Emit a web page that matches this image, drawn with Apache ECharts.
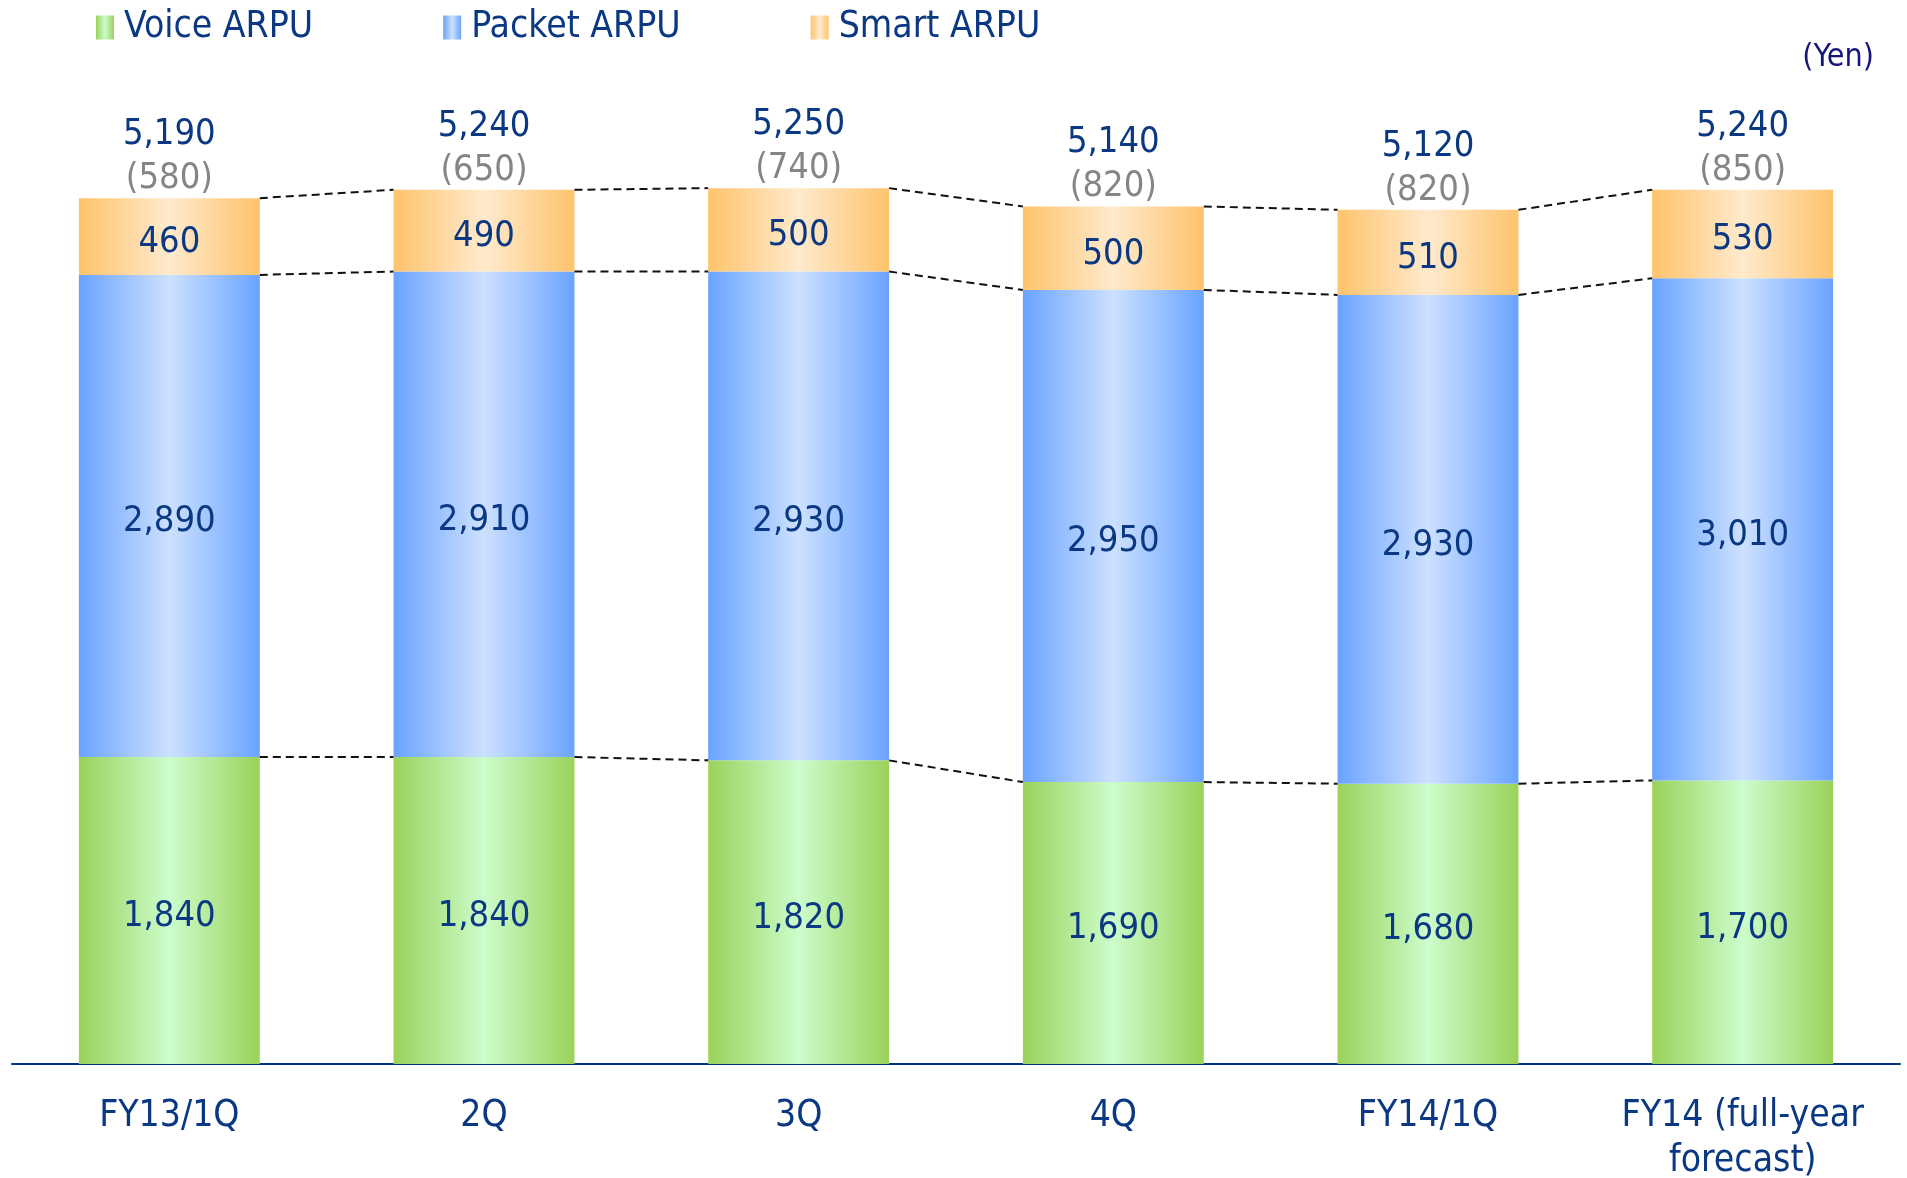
<!DOCTYPE html>
<html>
<head>
<meta charset="utf-8">
<script src="https://cdn.jsdelivr.net/npm/echarts@6/dist/echarts.min.js"></script>
<style>
html,body{margin:0;padding:0;background:#fff;}
#chart{width:1907px;height:1178px;}
</style>
</head>
<body>
<div id="chart"></div>
<script>
const categories = ['FY13/1Q', '2Q', '3Q', '4Q', 'FY14/1Q', 'FY14 (full-year\nforecast)'];
const voiceArpu = [1840, 1840, 1820, 1690, 1680, 1700];
const packetArpu = [2890, 2910, 2930, 2950, 2930, 3010];
const smartArpu = [460, 490, 500, 500, 510, 530];
const totalArpu = [5190, 5240, 5250, 5140, 5120, 5240];
const smartTotalArpu = [580, 650, 740, 820, 820, 850];

const FONT = "'DejaVu Sans Condensed', 'DejaVu Sans', sans-serif";
const TEXT_BLUE = '#0a3882';
const BAR_RATIO = 0.575;

function grad(edge, center) {
  return new echarts.graphic.LinearGradient(0, 0, 1, 0, [
    {offset: 0, color: edge},
    {offset: 0.5, color: center},
    {offset: 1, color: edge}
  ]);
}
const fmt = v => Number(v).toLocaleString('en-US');

// cumulative boundary levels for dashed connectors
const lvlVoice = voiceArpu.slice();
const lvlPacket = voiceArpu.map((v, i) => v + packetArpu[i]);
const lvlSmart = lvlPacket.map((v, i) => v + smartArpu[i]);
const connectorData = [];
[lvlVoice, lvlPacket, lvlSmart].forEach(lv => {
  for (let i = 0; i < lv.length - 1; i++) connectorData.push([i, lv[i], lv[i + 1]]);
});

const innerLabel = {
  show: true, position: 'inside', offset: [0, 6], color: TEXT_BLUE, fontFamily: FONT, fontSize: 36,
  formatter: p => fmt(p.value)
};

const chart = echarts.init(document.getElementById('chart'), null, {renderer: 'canvas'});
chart.setOption({
  animation: false,
  backgroundColor: '#fff',
  legend: {
    left: 91, top: 4,
    itemWidth: 18, itemHeight: 24, itemGap: 130,
    icon: 'rect',
    data: ['Voice ARPU', 'Packet ARPU', 'Smart ARPU'],
    textStyle: {color: TEXT_BLUE, fontFamily: FONT, fontSize: 37, padding: [0, 0, 0, 5]}
  },
  graphic: [{
    type: 'text', right: 33, top: 42,
    style: {text: '(Yen)', fill: '#16167a', font: "32px " + FONT}
  }],
  grid: {left: 12, right: 7, top: 63, bottom: 114, outerBoundsMode: 'none', containLabel: false},
  xAxis: {
    type: 'category',
    data: categories,
    axisLine: {lineStyle: {color: '#003380', width: 2}},
    axisTick: {show: false},
    axisLabel: {color: TEXT_BLUE, fontFamily: FONT, fontSize: 37, lineHeight: 45, margin: 30, interval: 0}
  },
  yAxis: {
    type: 'value', min: 0, max: 6000, show: false, splitLine: {show: false}
  },
  series: [
    {
      name: 'Voice ARPU', type: 'bar', stack: 'arpu', barWidth: (BAR_RATIO * 100) + '%',
      data: voiceArpu,
      itemStyle: {color: grad('#9ad25a', '#ccfdcc')},
      label: innerLabel
    },
    {
      name: 'Packet ARPU', type: 'bar', stack: 'arpu', barWidth: (BAR_RATIO * 100) + '%',
      data: packetArpu,
      itemStyle: {color: grad('#69a3ff', '#cde1ff')},
      label: innerLabel
    },
    {
      name: 'Smart ARPU', type: 'bar', stack: 'arpu', barWidth: (BAR_RATIO * 100) + '%',
      data: smartArpu,
      itemStyle: {color: grad('#fec36c', '#ffeacd')},
      label: innerLabel
    },
    {
      name: 'totals', type: 'scatter', data: totalArpu,
      symbolSize: 1, itemStyle: {color: 'rgba(0,0,0,0)', opacity: 1},
      silent: true,
      label: {
        show: true, position: 'top', distance: 3, offset: [0, 6],
        formatter: p => '{t|' + fmt(totalArpu[p.dataIndex]) + '}\n{p|(' + fmt(smartTotalArpu[p.dataIndex]) + ')}',
        rich: {
          t: {color: TEXT_BLUE, fontFamily: FONT, fontSize: 36, lineHeight: 44},
          p: {color: '#858585', fontFamily: FONT, fontSize: 36, lineHeight: 44}
        }
      },
      z: 5
    },
    {
      name: 'connectors', type: 'custom', silent: true,
      data: connectorData,
      encode: {x: 0, y: [1, 2]},
      renderItem: function (params, api) {
        const i = api.value(0);
        const p1 = api.coord([i, api.value(1)]);
        const p2 = api.coord([i + 1, api.value(2)]);
        const half = api.size([1, 0])[0] * BAR_RATIO / 2;
        return {
          type: 'line',
          shape: {x1: p1[0] + half, y1: p1[1], x2: p2[0] - half, y2: p2[1]},
          style: {stroke: '#111', lineWidth: 2, lineDash: [8, 5]}
        };
      },
      z: 4
    }
  ]
});
</script>
</body>
</html>
